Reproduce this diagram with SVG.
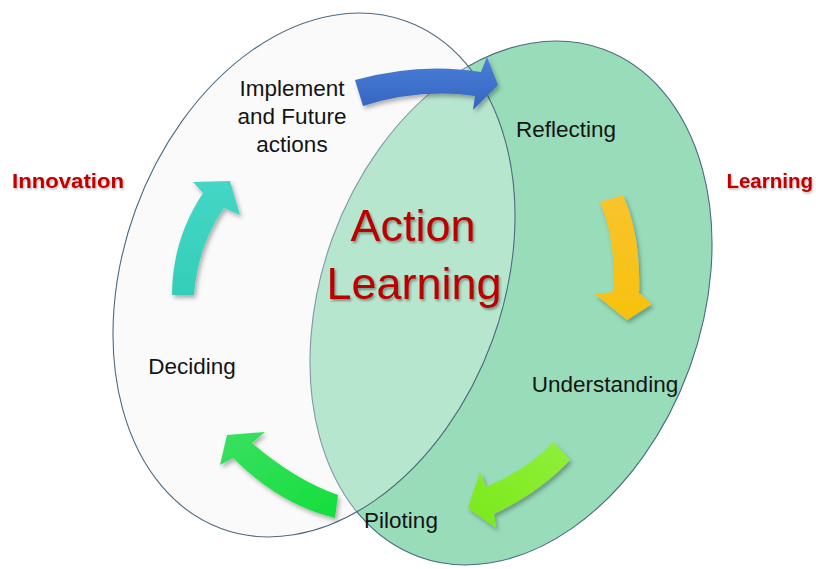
<svg xmlns="http://www.w3.org/2000/svg" width="816" height="569" viewBox="0 0 816 569">
<style>
.lbl{font-family:"Liberation Sans",Arial,sans-serif;font-size:22.5px;fill:#141414;text-anchor:middle}
.big{font-family:"Liberation Sans",Arial,sans-serif;font-size:45px;fill:#bb0000;text-anchor:middle;filter:url(#tsh)}
.side{font-family:"Liberation Sans",Arial,sans-serif;font-size:20.5px;font-weight:bold;fill:#c00000;filter:url(#tsh2)}
.ring{stroke:#4b6b80;stroke-width:1.1}
.arrow{filter:url(#sh)}
</style>
<defs>
<filter id="sh" x="-30%" y="-30%" width="160%" height="160%">
<feDropShadow dx="2" dy="3" stdDeviation="2" flood-color="#000" flood-opacity="0.3"/>
</filter>
<filter id="tsh" x="-10%" y="-10%" width="120%" height="130%">
<feDropShadow dx="1.5" dy="2" stdDeviation="1.2" flood-color="#000" flood-opacity="0.35"/>
</filter>
<filter id="tsh2" x="-10%" y="-20%" width="120%" height="150%">
<feDropShadow dx="1" dy="1.5" stdDeviation="1" flood-color="#000" flood-opacity="0.3"/>
</filter>
<linearGradient id="gBlue" x1="0" y1="0" x2="0" y2="1">
<stop offset="0" stop-color="#4a7fd8"/><stop offset="1" stop-color="#3564c0"/>
</linearGradient>
<linearGradient id="gYellow" x1="0" y1="0" x2="0" y2="1">
<stop offset="0" stop-color="#f9c32e"/><stop offset="1" stop-color="#f7c20c"/>
</linearGradient>
<linearGradient id="gLime" x1="1" y1="0" x2="0" y2="1">
<stop offset="0" stop-color="#90ef3a"/><stop offset="1" stop-color="#7ae91a"/>
</linearGradient>
<linearGradient id="gGreen" x1="1" y1="1" x2="0" y2="0">
<stop offset="0" stop-color="#14de3c"/><stop offset="1" stop-color="#3ae062"/>
</linearGradient>
<linearGradient id="gTeal" x1="0" y1="1" x2="0" y2="0">
<stop offset="0" stop-color="#33cfb8"/><stop offset="1" stop-color="#45d6c6"/>
</linearGradient>
</defs>
<rect width="816" height="569" fill="#ffffff"/>
<g id="innovation-circle">
<ellipse cx="314" cy="275" rx="190" ry="270" transform="rotate(20 314 275)" fill="#f8f8f8"/>
</g>
<g id="learning-circle">
<ellipse class="ring" cx="511" cy="303" rx="190" ry="270" transform="rotate(20 511 303)" fill="#98dcba"/>
</g>
<g id="innovation-outline">
<ellipse class="ring" cx="314" cy="275" rx="190" ry="270" transform="rotate(20 314 275)" fill="#ffffff" fill-opacity="0.3"/>
</g>
<g id="connectors">
<path class="arrow" fill="url(#gBlue)" d="M355 80 Q420 62 481 72 L487 57 L498 85 L473 110 L475 96 Q420 88 363 106 Z"/>
<path class="arrow" fill="url(#gYellow)" d="M600 202 Q616 240 614 292 L595 294 L627 320 L652 304 L639 293 Q641 235 623 195 Z"/>
<path class="arrow" fill="url(#gLime)" d="M570 460 Q540 492 494 514 L496 528 L468 508 L480 472 L486 487 Q530 468 553 442 Z"/>
<path class="arrow" fill="url(#gGreen)" d="M338 495 Q295 480 252 443 L265 432 L227 435 L220 465 L233 458 Q280 505 335 518 Z"/>
<path class="arrow" fill="url(#gTeal)" d="M172 295 Q172 240 203 193 L193 182 L230 181 L240 215 L224 208 Q198 245 194 295 Z"/>
</g>
<g id="implement">
<text class="lbl" x="292" y="96">Implement</text>
<text class="lbl" x="292" y="124">and Future</text>
<text class="lbl" x="292" y="152">actions</text>
</g>
<g id="reflecting"><text class="lbl" x="566" y="137">Reflecting</text></g>
<g id="understanding"><text class="lbl" x="605" y="392">Understanding</text></g>
<g id="piloting"><text class="lbl" x="401" y="528">Piloting</text></g>
<g id="deciding"><text class="lbl" x="192" y="374">Deciding</text></g>
<g id="action-learning">
<text class="big" x="413" y="241">Action</text>
<text class="big" x="414" y="299">Learning</text>
</g>
<g id="innovation-label"><text class="side" x="12" y="188" textLength="112" lengthAdjust="spacingAndGlyphs">Innovation</text></g>
<g id="learning-label"><text class="side" x="813" y="188" text-anchor="end">Learning</text></g>
</svg>
